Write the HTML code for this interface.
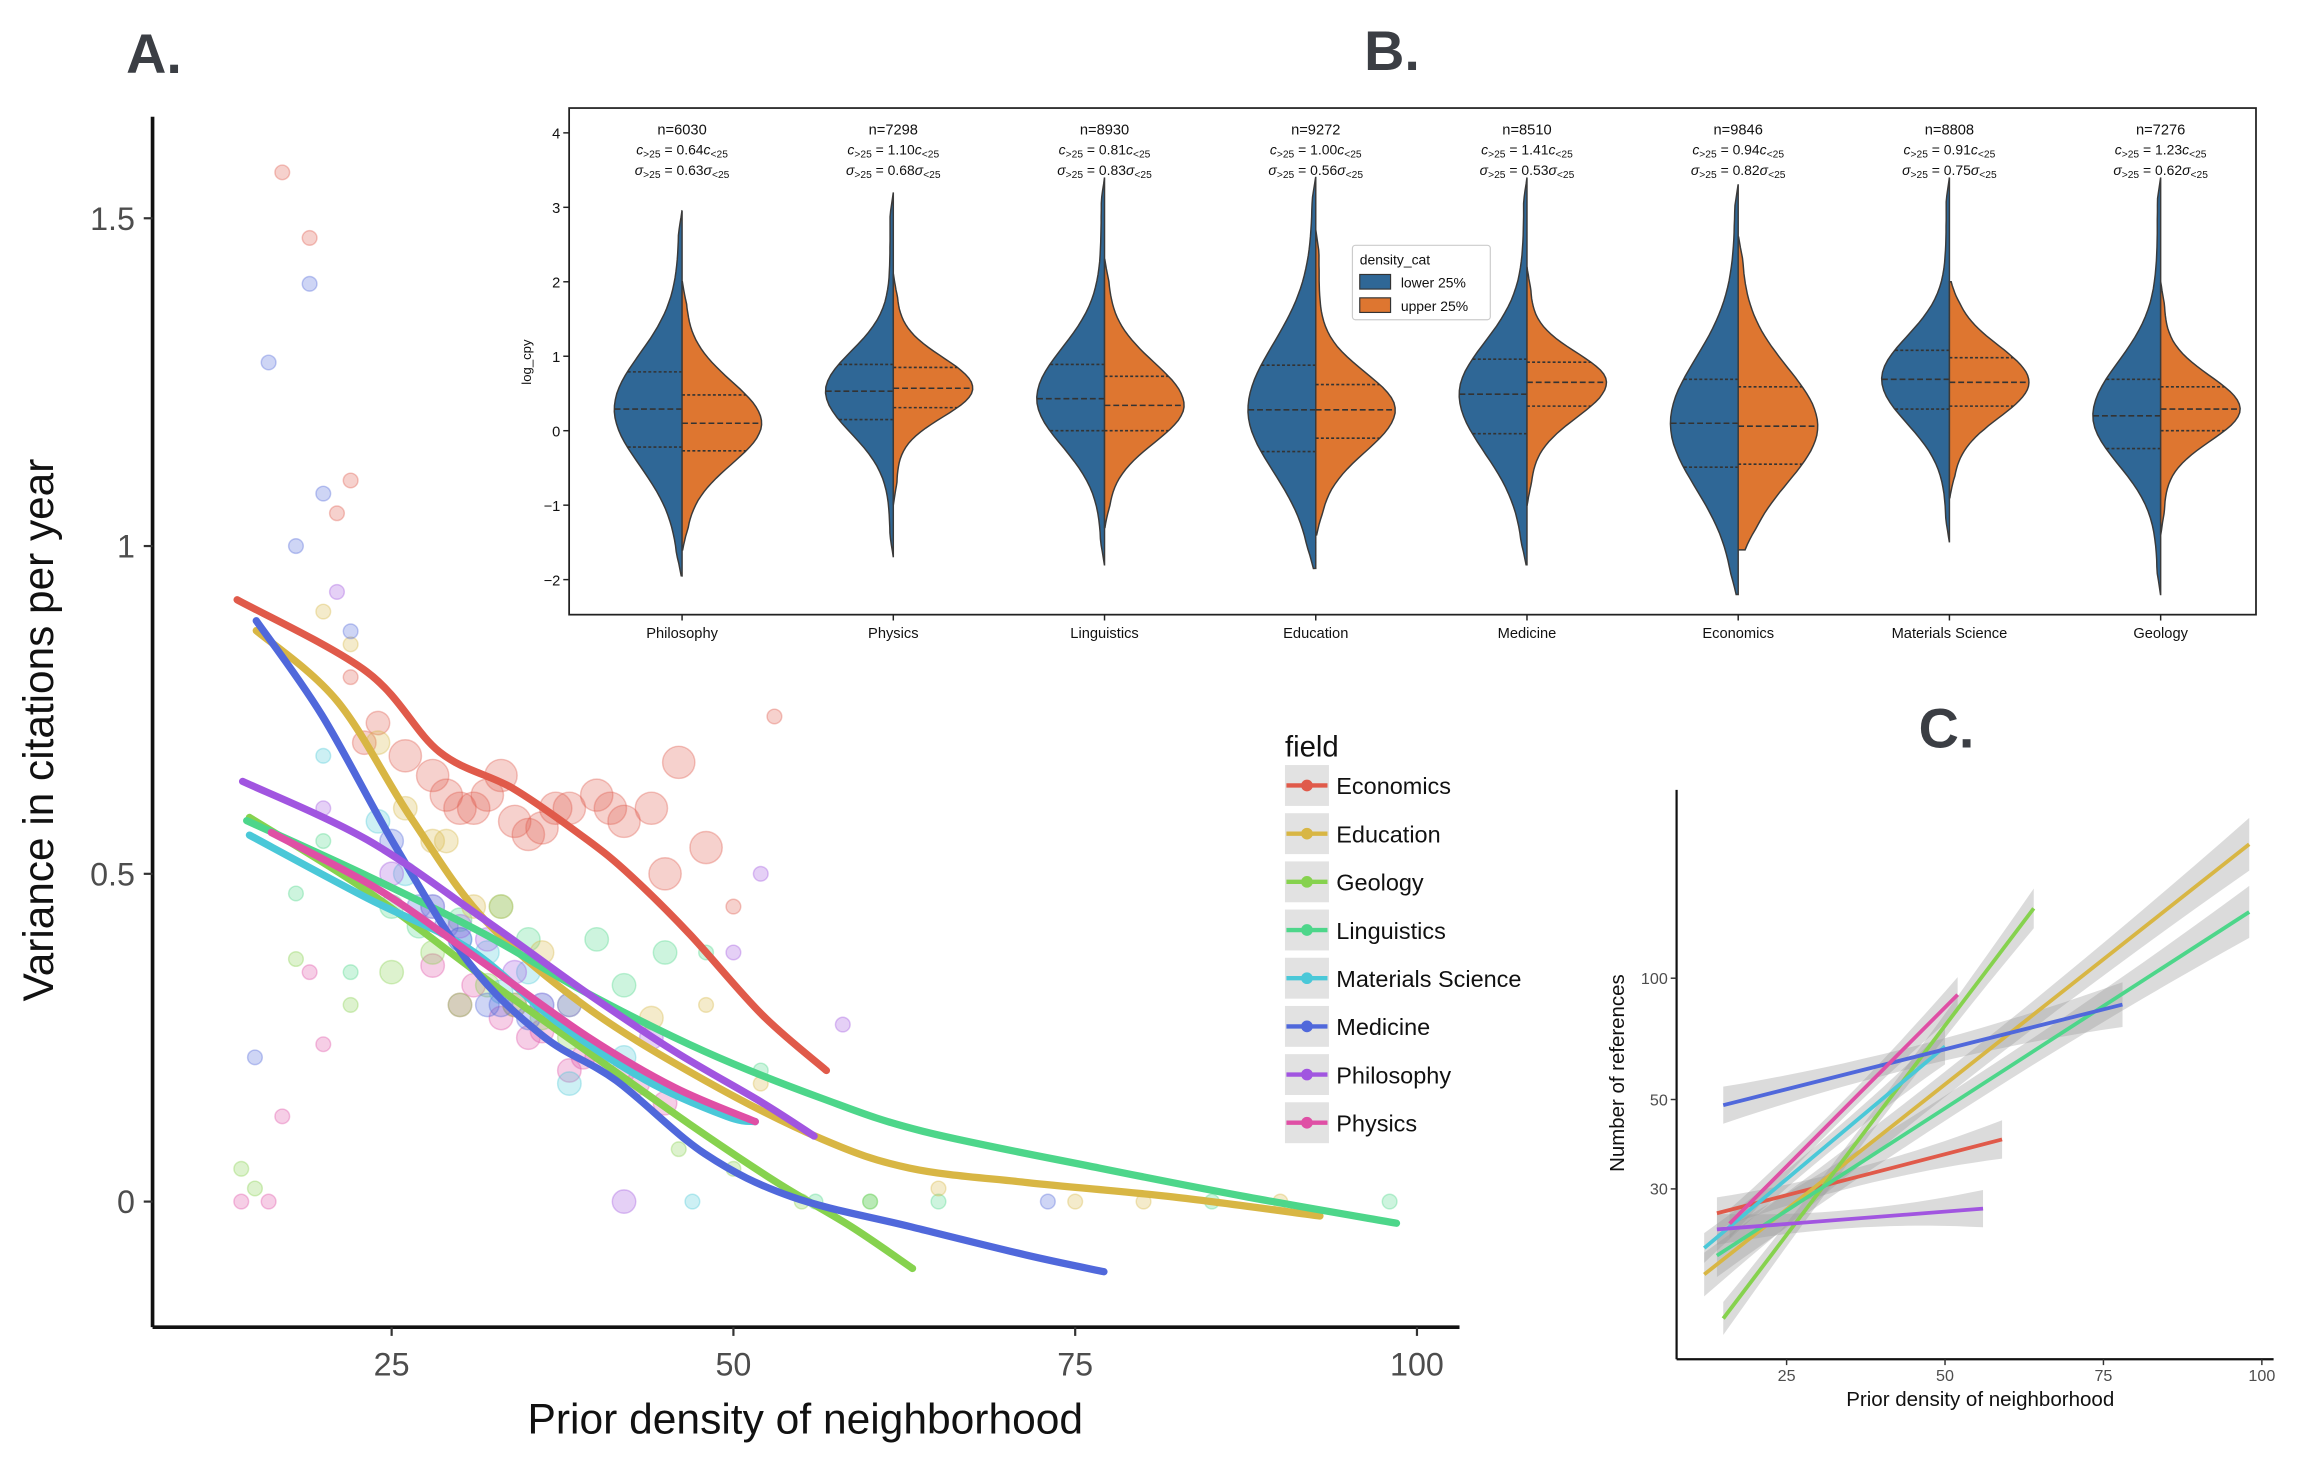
<!DOCTYPE html>
<html><head><meta charset="utf-8"><style>
html,body{margin:0;padding:0;background:#fff;}
svg{display:block;font-family:"Liberation Sans",sans-serif;}
</style></head><body>
<svg id="fig" width="2300" height="1460" viewBox="0 0 1568 1000" preserveAspectRatio="none" xmlns="http://www.w3.org/2000/svg">
<g id="panelA"></g>
<g id="panelB"></g>
<g id="panelC"></g>
<text x="86" y="50" font-size="38" font-weight="bold" fill="#3b3e44">A.</text>
<text x="930" y="48" font-size="38" font-weight="bold" fill="#3b3e44">B.</text>
<text x="1308" y="512" font-size="38" font-weight="bold" fill="#3b3e44">C.</text>
</svg>
<script>
const NS="http://www.w3.org/2000/svg";
const fields=["Economics","Education","Geology","Linguistics","Materials Science","Medicine","Philosophy","Physics"];
const colors=["#e05a4a","#d8b644","#86d24e","#4dd68a","#4ac8d8","#5068db","#a155e0","#df4fa5"];
// Panel A loess lines
const aX=[
[13.7,23.2,28.5,33.9,39.3,42.5,46.8,52.1,56.8],
[15.1,21.0,26.4,31.8,39.3,47.9,56.4,62.9,71.5,82.2,92.9],
[14.6,23.2,31.8,39.3,46.8,53.2,58.6,63.1],
[14.4,23.2,31.8,39.3,47.9,56.4,63.9,76.8,87.6,98.5],
[14.6,23.2,30.7,37.1,43.6,49.5,51.6],
[15.1,19.9,25.3,30.7,36.1,41.4,47.9,54.3,62.9,71.5,77.1],
[14.1,23.2,31.8,39.3,45.7,52.1,55.9],
[16.2,24.2,31.8,39.3,45.7,51.6]];
const aY=[
[0.918,0.808,0.686,0.630,0.552,0.497,0.408,0.285,0.200],
[0.871,0.764,0.586,0.430,0.296,0.185,0.096,0.051,0.029,0.007,-0.022],
[0.586,0.474,0.341,0.229,0.118,0.029,-0.038,-0.102],
[0.581,0.497,0.408,0.318,0.229,0.158,0.107,0.051,0.007,-0.033],
[0.559,0.463,0.385,0.274,0.185,0.130,0.122],
[0.886,0.742,0.541,0.363,0.252,0.185,0.073,0.007,-0.038,-0.082,-0.107],
[0.641,0.552,0.430,0.318,0.229,0.151,0.100],
[0.563,0.474,0.363,0.252,0.174,0.122]];
// scatter (field index, x, y, size class)
const scF=[0,0,0,0,0,0,0,0,0,0,0,0,0,0,0,0,0,0,0,0,0,0,0,0,0,0,0,0,
7,7,7,7,7,7,7,7,7,7,7,7,7,7,7,7,7,7,
3,3,3,3,3,3,3,3,3,3,3,3,3,3,3,3,3,3,3,
2,2,2,2,2,2,2,2,2,2,2,2,2,2,2,
1,1,1,1,1,1,1,1,1,1,1,1,1,1,1,1,
4,4,4,4,4,4,4,4,4,4,4,4,4,
5,5,5,5,5,5,5,5,5,5,5,5,5,5,
6,6,6,6,6,6,6,6,6,6,6,6,6,6];
const scX=[30,32,34,36,38,40,42,33,28,26,44,46,48,50,22,21,22,19,17,53,24,45,29,31,35,37,41,23,
30,35,40,42,38,33,20,19,17,16,14,45,36,31,28,39,43,34,
40,33,27,22,45,48,56,60,65,98,85,20,18,30,35,25,38,52,42,
30,32,36,25,18,15,50,46,14,28,34,38,22,55,60,
26,28,31,20,22,48,65,75,80,90,24,29,33,36,44,52,
28,30,35,24,20,47,38,26,32,36,33,42,22,
19,20,16,18,22,30,32,15,73,25,27,29,33,35,
32,36,21,20,25,52,50,58,42,28,30,34,38,44];
const scY=[0.6,0.62,0.58,0.57,0.6,0.62,0.58,0.65,0.65,0.68,0.6,0.67,0.54,0.45,0.8,1.05,1.1,1.47,1.57,0.74,0.73,0.5,0.62,0.6,0.56,0.6,0.6,0.7,
0.3,0.25,0.22,0.2,0.2,0.28,0.24,0.35,0.13,0,0,0.15,0.26,0.33,0.36,0.22,0.18,0.3,
0.4,0.45,0.42,0.35,0.38,0.38,0,0,0,0,0,0.55,0.47,0.43,0.4,0.45,0.3,0.2,0.33,
0.3,0.33,0.28,0.35,0.37,0.02,0.05,0.08,0.05,0.38,0.3,0.25,0.3,0,0,
0.6,0.55,0.45,0.9,0.85,0.3,0.02,0,0,0,0.7,0.55,0.45,0.38,0.28,0.18,
0.45,0.4,0.35,0.58,0.68,0,0.18,0.5,0.38,0.3,0.32,0.22,0.5,
1.4,1.08,1.28,1.0,0.87,0.4,0.3,0.22,0,0.55,0.45,0.42,0.3,0.28,
0.4,0.3,0.93,0.6,0.5,0.5,0.38,0.27,0,0.45,0.42,0.35,0.3,0.25];
const aXticks=[25,50,75,100], aYticks=[0,0.5,1,1.5], aYlabels=["0","0.5","1","1.5"];
// Panel B violins
const vCats=["Philosophy","Physics","Linguistics","Education","Medicine","Economics","Materials Science","Geology"];
const vN=["6030","7298","8930","9272","8510","9846","8808","7276"];
const vC=["0.64","1.10","0.81","1.00","1.41","0.94","0.91","1.23"];
const vS=["0.63","0.68","0.83","0.56","0.53","0.82","0.75","0.62"];
const lowQ1=[-0.22,0.15,0.0,-0.28,-0.04,-0.49,0.29,-0.24];
const lowMed=[0.29,0.53,0.43,0.28,0.49,0.1,0.69,0.2];
const lowQ3=[0.79,0.89,0.89,0.88,0.96,0.69,1.08,0.69];
const lowMin=[-1.95,-1.7,-1.8,-1.85,-1.8,-2.2,-1.5,-2.2];
const lowMax=[2.95,3.2,3.4,3.4,3.4,3.3,3.4,3.4];
const upQ1=[-0.27,0.31,0.0,-0.1,0.33,-0.45,0.33,0.0];
const upMed=[0.1,0.57,0.34,0.28,0.65,0.06,0.65,0.29];
const upQ3=[0.48,0.85,0.73,0.62,0.92,0.59,0.98,0.59];
const upMin=[-1.6,-1.0,-1.3,-1.4,-1.0,-1.6,-0.9,-1.4];
const upMax=[2.0,2.1,2.3,2.7,2.2,2.6,2.0,2.0];
const bYticks=[4,3,2,1,0,-1,-2];
// Panel C regression lines
const cX0=[14,12,15,14,12,15,14,16], cX1=[59,98,64,98,50,78,56,52];
const cY0=[26.1,18.4,14.3,20.5,21.4,48.4,23.8,24.6], cY1=[39.8,215,149,146,67.7,86,26.8,91];
const cXticks=[25,50,75,100], cYticks=[30,50,100];

function el(parent,tag,attrs,name,inter){const e=document.createElementNS(NS,tag);for(const k in attrs)e.setAttribute(k,attrs[k]);


parent.appendChild(e);return e;}
function txt(parent,x,y,s,size,fill,anchor,name,extra){const t=el(parent,'text',Object.assign({x:x,y:y,'font-size':size,fill:fill,'text-anchor':anchor||'start'},extra||{}),name,false);t.textContent=s;return t;}
function smooth(pts){let d="M"+pts[0][0]+","+pts[0][1];for(let i=1;i<pts.length;i++){const p0=pts[Math.max(0,i-2)],p1=pts[i-1],p2=pts[i],p3=pts[Math.min(pts.length-1,i+1)];
const c1=[p1[0]+(p2[0]-p0[0])/6,p1[1]+(p2[1]-p0[1])/6],c2=[p2[0]-(p3[0]-p1[0])/6,p2[1]-(p3[1]-p1[1])/6];d+=` C${c1[0]},${c1[1]} ${c2[0]},${c2[1]} ${p2[0]},${p2[1]}`;}return d;}

// ---- Panel A
const A=document.getElementById('panelA');
const ax=v=>267+(v-25)*9.32, ay=v=>823-v*449;
el(A,'line',{x1:104,y1:80,x2:104,y2:909,stroke:'#111','stroke-width':2.5},'a-y-axis',false);
el(A,'line',{x1:104,y1:909,x2:995,y2:909,stroke:'#111','stroke-width':2.5},'a-x-axis',false);
aXticks.forEach((t,i)=>{el(A,'line',{x1:ax(t),y1:909,x2:ax(t),y2:915,stroke:'#333','stroke-width':1.5},'a-x-tick',false);txt(A,ax(t),942,String(t),22,'#4d4d4d','middle','a-x-tick-label');});
aYticks.forEach((t,i)=>{el(A,'line',{x1:98,y1:ay(t),x2:104,y2:ay(t),stroke:'#333','stroke-width':1.5},'a-y-tick',false);txt(A,92,ay(t)+8,aYlabels[i],22,'#4d4d4d','end','a-y-tick-label');});
txt(A,549,982,'Prior density of neighborhood',29,'#111','middle','a-x-axis-title');
txt(A,0,0,'Variance in citations per year',29,'#111','middle','a-y-axis-title',{transform:'translate(36,500) rotate(-90)'});
scX.forEach((x,i)=>{const big=scF[i]===0&&x>25&&x<50;el(A,'circle',{cx:ax(x),cy:ay(scY[i]),r:big?11:(x>22&&x<46?8:5),fill:colors[scF[i]],'fill-opacity':0.28,stroke:colors[scF[i]],'stroke-opacity':0.35},'scatter-point-'+fields[scF[i]].toLowerCase().replace(' ','-'),false);});
aX.forEach((xs,f)=>{const pts=xs.map((x,i)=>[ax(x),ay(aY[f][i])]);el(A,'path',{d:smooth(pts),fill:'none',stroke:colors[f],'stroke-width':5,'stroke-linecap':'round'},'loess-line-'+fields[f].toLowerCase().replace(' ','-'),false);});
// legend
txt(A,876,518,'field',20,'#111','start','legend-title');
fields.forEach((f,i)=>{const y=538+i*33;
el(A,'rect',{x:876,y:y-14,width:30,height:28,fill:'#e2e2e2'},'legend-key-bg',false);
el(A,'line',{x1:877,y1:y,x2:905,y2:y,stroke:colors[i],'stroke-width':3},'legend-key-line',false);
el(A,'circle',{cx:891,cy:y,r:4,fill:colors[i]},'legend-key-marker',false);
txt(A,911,y+6,f,16,'#111','start','legend-entry-'+f.toLowerCase().replace(' ','-'));});

// ---- Panel B
const B=document.getElementById('panelB');
el(B,'rect',{x:388,y:74,width:1150,height:347,fill:'#fff',stroke:'#222','stroke-width':1.2},'b-plot-frame',false);
const by=v=>295-v*51, bx=i=>465+i*144;
bYticks.forEach(t=>{el(B,'line',{x1:384,y1:by(t),x2:388,y2:by(t),stroke:'#222'},'b-y-tick',false);txt(B,382,by(t)+4,t<0?'\u2212'+(-t):String(t),10,'#111','end','b-y-tick-label');});
txt(B,0,0,'log_cpy',9,'#111','middle','b-y-axis-title',{transform:'translate(362,248) rotate(-90)'});
function half(i,side,q1,med,q3,mn,mx,W){
  const cx=bx(i),sUp=(q3-med)/0.674,sDn=(med-q1)/0.674,pts=[];
  const N=60;
  for(let k=0;k<=N;k++){const v=mn+(mx-mn)*k/N;const z=v>=med?(v-med)/sUp:(v-med)/sDn;
    let w=W*Math.exp(-0.5*z*z)+2.2*Math.min(1,(mx-v)/0.3,(v-mn)/0.3);
    pts.push([cx+side*w,by(v)]);}
  let d="M"+cx+","+by(mn)+" L"+pts.map(p=>p[0].toFixed(1)+","+p[1].toFixed(1)).join(" L")+" L"+cx+","+by(mx)+" Z";
  el(B,'path',{d:d,fill:side<0?'#2f6796':'#de7630',stroke:'#3a3a3a','stroke-width':1},'violin-'+(side<0?'lower':'upper')+'-'+vCats[i].toLowerCase().replace(' ','-'),false);
  [[q1,'2,1.5'],[med,'4,2'],[q3,'2,1.5']].forEach(([q,da])=>{const z=q>=med?(q-med)/sUp:(q-med)/sDn;const w=W*Math.exp(-0.5*z*z)+2;
    el(B,'line',{x1:cx,x2:cx+side*w,y1:by(q),y2:by(q),stroke:'#333','stroke-width':1.1,'stroke-dasharray':da},'violin-quartile-line',false);});
}
vCats.forEach((c,i)=>{
  half(i,-1,lowQ1[i],lowMed[i],lowQ3[i],lowMin[i],lowMax[i],44);
  half(i,1,upQ1[i],upMed[i],upQ3[i],upMin[i],upMax[i],52);
  el(B,'line',{x1:bx(i),y1:421,x2:bx(i),y2:425,stroke:'#222'},'b-x-tick',false);
  txt(B,bx(i),437,c,10,'#111','middle','b-x-tick-label');
  txt(B,bx(i),92,'n='+vN[i],10,'#111','middle','violin-n-annotation');
  const t1=txt(B,bx(i),106,'',9.5,'#111','middle','violin-c-annotation');
  t1.innerHTML='<tspan font-style="italic">c</tspan><tspan font-size="7" dy="2">&gt;25</tspan><tspan dy="-2"> = '+vC[i]+'</tspan><tspan font-style="italic">c</tspan><tspan font-size="7" dy="2">&lt;25</tspan>';
  const t2=txt(B,bx(i),120,'',9.5,'#111','middle','violin-sigma-annotation');
  t2.innerHTML='<tspan font-style="italic">σ</tspan><tspan font-size="7" dy="2">&gt;25</tspan><tspan dy="-2"> = '+vS[i]+'</tspan><tspan font-style="italic">σ</tspan><tspan font-size="7" dy="2">&lt;25</tspan>';
});
el(B,'rect',{x:922,y:168,width:94,height:51,fill:'#fff',stroke:'#ccc','stroke-width':0.8,rx:2},'b-legend-box',false);
txt(B,927,181,'density_cat',9.5,'#111','start','b-legend-title');
el(B,'rect',{x:927,y:188,width:21,height:10,fill:'#2f6796',stroke:'#333','stroke-width':0.8},'b-legend-swatch-lower',false);
txt(B,955,197,'lower 25%',9.5,'#111','start','b-legend-entry-lower');
el(B,'rect',{x:927,y:204,width:21,height:10,fill:'#de7630',stroke:'#333','stroke-width':0.8},'b-legend-swatch-upper',false);
txt(B,955,213,'upper 25%',9.5,'#111','start','b-legend-entry-upper');

// ---- Panel C
const C=document.getElementById('panelC');
const cx=v=>1218+(v-25)*4.32, cy=v=>670+(2-Math.log10(v))*276;
el(C,'line',{x1:1143,y1:541,x2:1143,y2:931,stroke:'#111','stroke-width':1.5},'c-y-axis',false);
el(C,'line',{x1:1143,y1:931,x2:1550,y2:931,stroke:'#111','stroke-width':1.5},'c-x-axis',false);
cXticks.forEach(t=>{el(C,'line',{x1:cx(t),y1:931,x2:cx(t),y2:935,stroke:'#333'},'c-x-tick',false);txt(C,cx(t),946,String(t),11,'#4d4d4d','middle','c-x-tick-label');});
cYticks.forEach(t=>{el(C,'line',{x1:1139,y1:cy(t),x2:1143,y2:cy(t),stroke:'#333'},'c-y-tick',false);txt(C,1137,cy(t)+4,String(t),11,'#4d4d4d','end','c-y-tick-label');});
txt(C,1350,963,'Prior density of neighborhood',14,'#111','middle','c-x-axis-title');
txt(C,0,0,'Number of references',14,'#111','middle','c-y-axis-title',{transform:'translate(1107,735) rotate(-90)'});
cX0.forEach((x0,i)=>{const x1=cX1[i],y0=cY0[i],y1=cY1[i];
  const se=0.03+0.04*(x1-x0)/86;
  const L=[],U=[];for(let k=0;k<=20;k++){const t=k/20,x=x0+(x1-x0)*t,ly=Math.log10(y0)+(Math.log10(y1)-Math.log10(y0))*t;const w=se*(0.45+1.6*(t-0.45)*(t-0.45));
    U.push(cx(x).toFixed(1)+","+cy(Math.pow(10,ly+w)).toFixed(1));L.push(cx(x).toFixed(1)+","+cy(Math.pow(10,ly-w)).toFixed(1));}
  el(C,'polygon',{points:U.concat(L.reverse()).join(" "),fill:'#999','fill-opacity':0.35},'c-confidence-band-'+fields[i].toLowerCase().replace(' ','-'),false);
});
cX0.forEach((x0,i)=>{el(C,'line',{x1:cx(x0),y1:cy(cY0[i]),x2:cx(cX1[i]),y2:cy(cY1[i]),stroke:colors[i],'stroke-width':2.6},'c-regression-line-'+fields[i].toLowerCase().replace(' ','-'),false);});
</script>
</body></html>
